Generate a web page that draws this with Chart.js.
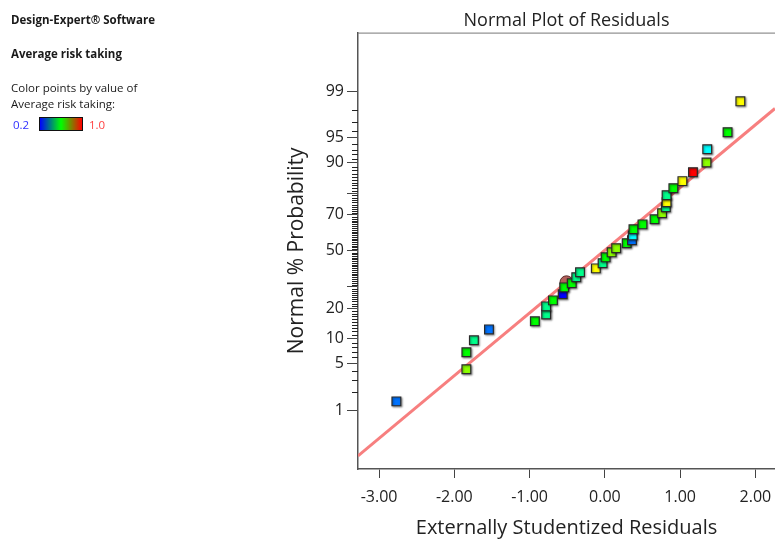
<!DOCTYPE html>
<html>
<head>
<meta charset="utf-8">
<title>Normal Plot of Residuals</title>
<script src="https://cdn.jsdelivr.net/npm/chart.js@4"></script>
<style>
  html, body { margin: 0; padding: 0; background: #fff; overflow: hidden; }
  #wrap { position: relative; width: 775px; height: 540px; }
  #wrap canvas { position: absolute; left: 0; top: 0; }
  .side { position: absolute; left: 11px; font-family: "Open Sans", sans-serif; font-size: 11.5px; color: #1a1a1a; white-space: nowrap; }
  .side.bold { font-weight: bold; }
  .scale { position: absolute; top: 117px; font-family: "Open Sans", sans-serif; font-size: 11.5px; }
  .bar { position: absolute; left: 39px; top: 117px; width: 42px; height: 12px; border: 1px solid #111;
         background: linear-gradient(to right, #0000ff, #00ff00, #ff0000); }
</style>
</head>
<body>
<div id="wrap">
  <canvas id="residualChart" width="775" height="540"></canvas>
  <div class="side bold" style="top:12px">Design-Expert® Software</div>
  <div class="side bold" style="top:46px">Average risk taking</div>
  <div class="side" style="top:80px">Color points by value of</div>
  <div class="side" style="top:96px">Average risk taking:</div>
  <div class="scale" style="left:13px; color:#3030ff">0.2</div>
  <div class="bar"></div>
  <div class="scale" style="left:89px; color:#ff4040">1.0</div>
</div>
<script>
// residuals (x) and normal % probability (y), sorted by rank
const residuals = [-2.77, -1.84, -1.84, -1.74, -1.54, -0.93, -0.78, -0.78, -0.69, -0.56,
  -0.54, -0.44, -0.38, -0.33, -0.12, -0.03, 0.01, 0.09, 0.15, 0.29,
  0.36, 0.37, 0.38, 0.50, 0.66, 0.76, 0.81, 0.82, 0.82, 0.91,
  1.03, 1.17, 1.35, 1.36, 1.63, 1.80]
const probability = [1.41, 4.21, 6.95, 9.60, 12.6, 15.2, 17.7, 20.9, 23.5, 26.3,
  29.7, 31.8, 35.0, 37.7, 39.9, 42.8, 46.2, 49.1, 51.5, 54.4,
  56.1, 58.9, 62.3, 65.0, 67.7, 70.8, 73.7, 76.0, 79.1, 81.9,
  84.5, 87.4, 90.1, 93.05, 95.8, 98.53]
// response value used to colour each point (0.2 .. 1.0)
const riskTaking = [0.29, 0.71, 0.60, 0.49, 0.29, 0.60, 0.49, 0.49, 0.60, 0.20,
  0.60, 0.60, 0.49, 0.49, 0.80, 0.49, 0.60, 0.71, 0.71, 0.60,
  0.29, 0.40, 0.60, 0.60, 0.60, 0.71, 0.49, 0.80, 0.49, 0.60,
  0.80, 1.00, 0.71, 0.40, 0.60, 0.80]

// highlighted run (circle)
const selectedX = [-0.51]
const selectedP = [32.3]

// reference line end points
const lineX = [-3.28, 2.26]
const lineP = [0.14, 98.1]

const xTicks = [-3, -2, -1, 0, 1, 2]
const yMajorTicks = [1, 5, 10, 20, 30, 50, 70, 80, 90, 95, 99]
const yLabelled = [1, 5, 10, 20, 50, 70, 90, 95, 99]

// inverse normal CDF (Acklam)
function probit(p) {
  const a = [-39.69683028665376, 220.9460984245205, -275.9285104469687, 138.3577518672690, -30.66479806614716, 2.506628277459239]
  const b = [-54.47609879822406, 161.5858368580409, -155.6989798598866, 66.80131188771972, -13.28068155288572]
  const c = [-0.007784894002430293, -0.3223964580411365, -2.400758277161838, -2.549732539343734, 4.374664141464968, 2.938163982698783]
  const d = [0.007784695709041462, 0.3224671290700398, 2.445134137142996, 3.754408661907416]
  const pl = 0.02425
  let q, r
  if (p < pl) {
    q = Math.sqrt(-2 * Math.log(p))
    return (((((c[0] * q + c[1]) * q + c[2]) * q + c[3]) * q + c[4]) * q + c[5]) / ((((d[0] * q + d[1]) * q + d[2]) * q + d[3]) * q + 1)
  }
  if (p > 1 - pl) {
    q = Math.sqrt(-2 * Math.log(1 - p))
    return -(((((c[0] * q + c[1]) * q + c[2]) * q + c[3]) * q + c[4]) * q + c[5]) / ((((d[0] * q + d[1]) * q + d[2]) * q + d[3]) * q + 1)
  }
  q = p - 0.5
  r = q * q
  return (((((a[0] * r + a[1]) * r + a[2]) * r + a[3]) * r + a[4]) * r + a[5]) * q / (((((b[0] * r + b[1]) * r + b[2]) * r + b[3]) * r + b[4]) * r + 1)
}

// 0.2 -> blue, 0.6 -> green, 1.0 -> red
function colourFor(v) {
  const hue = 240 * (1 - (v - 0.2) / 0.8)
  return `hsl(${hue}, 100%, 50%)`
}

const FONT = '"Open Sans", sans-serif'
Chart.defaults.font.family = FONT
Chart.defaults.color = "#222"

// short ticks for every whole percent on the probability axis
const minorTicks = {
  id: "minorTicks",
  afterDraw(chart) {
    const y = chart.scales.y
    const a = chart.chartArea
    const ctx = chart.ctx
    ctx.save()
    ctx.strokeStyle = "#222"
    ctx.lineWidth = 1
    ctx.beginPath()
    for (let p = 2; p <= 98; p++) {
      if (yMajorTicks.includes(p)) continue
      const py = Math.round(y.getPixelForValue(probit(p / 100))) + 0.5
      ctx.moveTo(a.left - 6, py)
      ctx.lineTo(a.left, py)
    }
    ctx.stroke()
    // top frame line
    ctx.strokeStyle = "#777"
    ctx.beginPath()
    ctx.moveTo(a.left, a.top + 0.5)
    ctx.lineTo(a.right, a.top + 0.5)
    ctx.stroke()
    ctx.restore()
  },
}

// soft shadow behind the square markers
const markerShadow = {
  id: "markerShadow",
  beforeDatasetDraw(chart, args) {
    if (args.index !== 0) return
    const ctx = chart.ctx
    ctx.save()
    ctx.shadowColor = "rgba(0, 0, 0, 0.4)"
    ctx.shadowBlur = 2
    ctx.shadowOffsetX = 1
    ctx.shadowOffsetY = 1
  },
  afterDatasetDraw(chart, args) {
    if (args.index !== 0) return
    chart.ctx.restore()
  },
}

const ctx = document.getElementById("residualChart")

new Chart(ctx, {
  type: "scatter",
  data: {
    datasets: [
      {
        label: "Residuals",
        data: residuals.map((x, i) => ({ x: x, y: probit(probability[i] / 100) })),
        pointStyle: "rect",
        pointRadius: 6.2,
        pointBackgroundColor: riskTaking.map(colourFor),
        pointBorderColor: "#2a2a2a",
        pointBorderWidth: 1.2,
        order: 0,
      },
      {
        label: "Selected",
        data: selectedX.map((x, i) => ({ x: x, y: probit(selectedP[i] / 100) })),
        pointStyle: "circle",
        pointRadius: 6.5,
        pointBackgroundColor: "#b3615c",
        pointBorderColor: "#5c2c2a",
        pointBorderWidth: 1,
        order: 1,
      },
      {
        label: "Fit",
        type: "line",
        data: lineX.map((x, i) => ({ x: x, y: probit(lineP[i] / 100) })),
        borderColor: "#f77f7f",
        borderWidth: 3,
        pointRadius: 0,
        fill: false,
        order: 2,
      },
    ],
  },
  options: {
    responsive: false,
    animation: false,
    layout: {
      autoPadding: false,
      padding: { left: 280, right: 0, top: 0, bottom: 0 },
    },
    plugins: {
      legend: { display: false },
      tooltip: { enabled: false },
      title: {
        display: true,
        fullSize: false,
        text: "Normal Plot of Residuals",
        color: "#222",
        font: { size: 18, weight: "normal" },
        padding: { top: 10, bottom: 1 },
      },
    },
    scales: {
      x: {
        type: "linear",
        min: -3.28,
        max: 2.26,
        afterBuildTicks: (s) => {
          s.ticks = xTicks.map((v) => ({ value: v }))
        },
        afterFit: (s) => {
          s.height = 71
          s.paddingLeft = 0
          s.paddingRight = 0
        },
        ticks: {
          callback: (v) => v.toFixed(2),
          font: { size: 16 },
          color: "#222",
          padding: 10,
          autoSkip: false,
          maxRotation: 0,
        },
        grid: { drawOnChartArea: false, tickLength: 9, tickColor: "#444" },
        border: { color: "#555", width: 1.5 },
        title: {
          display: true,
          text: "Externally Studentized Residuals",
          font: { size: 20 },
          color: "#222",
          padding: { top: 0, bottom: 0 },
        },
      },
      y: {
        type: "linear",
        min: -3.18,
        max: 3.18,
        afterBuildTicks: (s) => {
          s.ticks = yMajorTicks.map((p) => ({ value: probit(p / 100) }))
        },
        afterFit: (s) => {
          s.width = 78
        },
        ticks: {
          callback: (v, i) => (yLabelled.includes(yMajorTicks[i]) ? String(yMajorTicks[i]) : ""),
          font: { size: 16 },
          color: "#222",
          padding: 3,
          autoSkip: false,
        },
        grid: { drawOnChartArea: false, tickLength: 11, tickColor: "#444" },
        border: { color: "#555", width: 1.5 },
        title: {
          display: true,
          text: "Normal % Probability",
          font: { size: 21 },
          color: "#222",
          padding: { top: 4, bottom: 0 },
        },
      },
    },
  },
  plugins: [minorTicks, markerShadow],
})
</script>
</body>
</html>
